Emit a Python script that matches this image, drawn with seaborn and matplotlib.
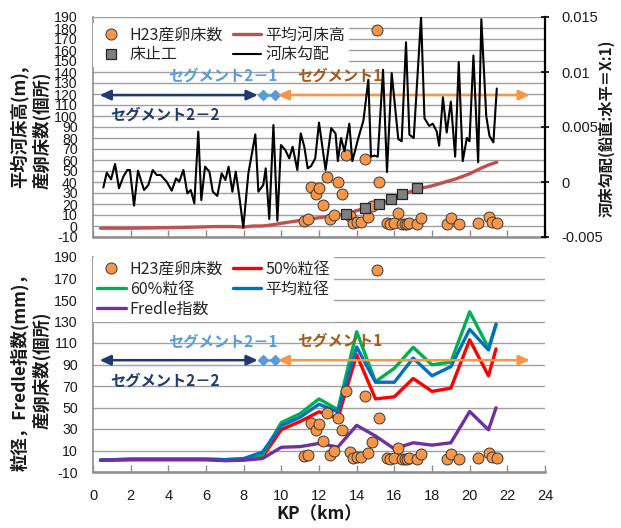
import matplotlib
matplotlib.use("Agg")
import matplotlib.pyplot as plt
from matplotlib.lines import Line2D
from matplotlib.font_manager import FontProperties
import pandas as pd
import seaborn as sns

# ---------------------------------------------------------------- data
# H23 spawning redds: kilometre post and number of redds
redd_kp = [11.22, 11.44, 11.58, 11.84, 12.0, 12.2, 12.44, 12.57, 12.8, 13.0,
           13.22, 13.44, 13.63, 13.8, 14.0, 14.22, 14.44, 14.6, 14.82, 15.06,
           15.21, 15.63, 15.77, 15.99, 16.2, 16.39, 16.57, 16.69, 16.8, 17.19,
           17.42, 18.78, 19.01, 19.42, 20.43, 21.01, 21.17, 21.44]
redd_count = [5, 6, 35.5, 29, 35, 19, 45, 6, 10, 40,
              29, 65, 9, 3, 4, 4, 61, 8, 18, 178,
              40, 3, 2, 3, 12, 2, 2, 2, 3, 2,
              7, 2, 7, 2, 3, 8, 4, 3]

# mean bed elevation (m)
bed_kp = [0.4, 2, 4, 5.5, 6.5, 7.5, 8, 8.5, 9, 9.5, 10, 11, 12, 12.8, 13.44,
          14, 14.44, 15.21, 15.81, 16.43, 17.21, 18, 18.6, 19.3, 20, 20.6, 21, 21.44]
bed_elev = [-2, -2, -1.5, -1, -0.5, -0.5, -1, 0, 0, 1, 2.5, 5, 7.5, 9.5, 11,
            14, 16, 20, 24, 28.5, 33.5, 36.5, 39.5, 43, 47.5, 52.5, 55.5, 58]

# grade-control sills
sill_kp = [13.44, 14.44, 15.21, 15.81, 16.43, 17.21]
sill_elev = [10.9, 16.1, 20.0, 24.3, 28.8, 34.3]

# bed slope (vertical : horizontal = X : 1)
slope_kp = [0.55, 0.73, 0.96, 1.17, 1.38, 1.61, 1.82, 1.96, 2.18, 2.39,
            2.71, 2.94, 3.17, 3.38, 3.59, 3.91, 4.18, 4.41, 4.58, 4.80,
            5.01, 5.19, 5.38, 5.59, 5.75, 5.95, 6.18, 6.36, 6.60, 6.83,
            7.03, 7.20, 7.40, 7.58, 7.77, 7.98, 8.25, 8.62, 8.78, 9.04,
            9.17, 9.36, 9.58, 9.79, 9.98, 10.21, 10.42, 10.60, 10.85, 11.03,
            11.22, 11.40, 11.58, 11.80, 12.00, 12.35, 12.65, 12.88, 13.00, 13.17,
            13.35, 13.61, 13.77, 14.09, 14.36, 14.62, 14.76, 14.95, 15.12, 15.40,
            15.61, 15.86, 16.21, 16.39, 16.62, 16.80, 17.03, 17.42, 17.60, 17.85,
            18.04, 18.25, 18.38, 18.58, 18.78, 19.00, 19.23, 19.42, 19.63, 19.85,
            19.99, 20.20, 20.45, 20.62, 20.88, 21.05, 21.26, 21.44]
slope = [-0.0005, 0.00085, 0.00024, 0.00164, -0.00057, 0.00048, 0.00109, 0.00109, -0.00215, 0.00103,
         -0.00073, -0.00027, 0.00109, 0.00064, 0.00064, 0.00003, -0.00079, 0.00033, 0.00003, 0.00109,
         -0.00103, -0.00073, -0.00194, 0.00458, -0.00164, 0.00139, 0.00094, -0.00088, -0.00127, 0.00079,
         0.00018, 0.00139, -0.00088, 0.00094, -0.00133, -0.00415, 0.00079, 0.00433, -0.00088, -0.00027,
         0.00124, -0.00336, 0.00518, -0.00352, 0.00336, 0.00291, 0.00215, 0.00321, 0.00109, 0.00442,
         0.0032, 0.00124, 0.00145, 0.00215, 0.0054, 0.0011, 0.0049, 0.0044, 0.0019, 0.0040,
         0.0028, 0.0053, 0.0019, 0.0040, 0.0056, 0.0093, 0.0023, 0.0024, 0.0023, 0.0102,
         0.0009, 0.0099, 0.0039, 0.0037, 0.0127, 0.0043, 0.0040, 0.0150, 0.0058, 0.0051,
         0.0053, 0.0046, 0.0033, 0.0077, 0.0045, 0.0073, 0.0023, 0.0109, 0.0019, 0.0040,
         0.0037, 0.0115, 0.0018, 0.0148, 0.0060, 0.0042, 0.0036, 0.0085]

# grain sizes (mm) and Fredle index
grain_kp = [0.4, 2, 4, 6, 7, 8, 9, 10, 11, 12, 13, 14, 15, 16, 17, 18, 19, 20, 21, 21.4]
d50 = [1, 1.5, 1.5, 1.5, 1, 1.5, 4, 29.5, 37, 46, 40, 99, 58, 60, 77, 65, 68, 113, 79.5, 104.5]
d60 = [1, 2, 2, 2, 1.5, 2, 6, 36, 44.3, 58, 48, 120.5, 74, 86.5, 106, 89.7, 92.3, 139, 105.5, 127]
dmean = [1, 2, 2, 2, 1.5, 2.5, 8.5, 33, 41, 53, 46, 106.3, 73.5, 73.5, 96, 79.5, 88, 122.7, 103.5, 127.6]
fredle = [1, 1.5, 1.5, 1.5, 0.5, 1, 2.5, 13, 13.6, 16.6, 13.2, 33.4, 23.5, 11.5, 17.2, 15, 17.2, 46.3, 29.2, 49.7]

# axis ticks
x_ticks = list(range(0, 25, 2))
x_tick_labels = [str(v) for v in x_ticks]
top_y_ticks = list(range(-10, 191, 10))
bottom_y_ticks = list(range(-10, 191, 20))
slope_ticks = [-0.005, 0, 0.005, 0.01, 0.015]
slope_tick_labels = ["-0.005", "0", "0.005", "0.01", "0.015"]

# river segments (km)
seg22_span = (0.35, 8.75)
seg21_span = (9.05, 9.65)
seg1_span = (9.8, 23.2)

# ---------------------------------------------------------------- style
ORANGE = "#F79646"
BED_RED = "#C0504D"
SILL_GRAY = "#7F7F7F"
RED = "#FF0000"
GREEN = "#00B050"
BLUE = "#0070C0"
PURPLE = "#7030A0"
NAVY = "#1F3A6E"
LIGHTBLUE = "#5B9BD5"
BROWN = "#A65A17"
GRID = "#A0A0A0"
SPINE = "#8C8C8C"
TXT = "#1A1A1A"

sns.set_theme(style="white")
CJK = ["Noto Sans CJK JP", "DejaVu Sans"]
NUM = ["Liberation Sans", "DejaVu Sans"]
plt.rcParams["font.family"] = CJK
plt.rcParams["axes.unicode_minus"] = False

fig = plt.figure(figsize=(6.21, 5.28), dpi=100)
W, H = 621, 528
ax_top = fig.add_axes([93 / W, 1 - 237 / H, 452 / W, 220 / H])
ax_bot = fig.add_axes([93 / W, 1 - 472 / H, 452 / W, 215 / H])


def style_axis(ax, yticks, show_xlabels):
    ax.set_xlim(0, 24)
    ax.set_ylim(-10, 190)
    ax.set_xticks(x_ticks)
    ax.set_xticklabels(x_tick_labels if show_xlabels else [],
                       fontfamily=NUM, fontsize=10.5, color=TXT)
    ax.set_yticks(yticks)
    ax.set_yticklabels([str(v) for v in yticks], fontfamily=NUM,
                       fontsize=10.2, color=TXT)
    ax.grid(axis="y", color=GRID, lw=1.0)
    ax.grid(axis="x", visible=False)
    ax.set_axisbelow(True)
    ax.tick_params(axis="x", direction="in", length=5, width=1.0,
                   color=SPINE, bottom=True, pad=12)
    ax.tick_params(axis="y", length=0, pad=11)
    for s in ("top", "right"):
        ax.spines[s].set_visible(False)
    ax.spines["left"].set_color(SPINE)
    ax.spines["left"].set_linewidth(1.2)
    ax.spines["bottom"].set_color(SPINE)
    ax.spines["bottom"].set_linewidth(1.8)
    ax.set_xlabel("")
    ax.set_ylabel("")


def draw_segments(ax, y_arrow, y_21, y_1, y_22):
    head = "<|-|>,head_length=0.55,head_width=0.25"
    ax.annotate("", xy=(seg22_span[0], y_arrow), xytext=(seg22_span[1], y_arrow),
                arrowprops=dict(arrowstyle=head, color=NAVY, lw=1.8,
                                shrinkA=0, shrinkB=0), zorder=6)
    ax.plot(list(seg21_span), [y_arrow, y_arrow], color=LIGHTBLUE, lw=1.8,
            marker="D", ms=5.5, mec=LIGHTBLUE, zorder=6)
    ax.annotate("", xy=(seg1_span[0], y_arrow), xytext=(seg1_span[1], y_arrow),
                arrowprops=dict(arrowstyle=head, color=ORANGE, lw=1.8,
                                shrinkA=0, shrinkB=0), zorder=6)
    kw = dict(ha="center", va="center", fontsize=11, fontweight="bold", zorder=7)
    ax.text(6.9, y_21, "セグメント2－1", color=LIGHTBLUE, **kw)
    ax.text(13.1, y_1, "セグメント1", color=BROWN, **kw)
    ax.text(3.85, y_22, "セグメント2－2", color=NAVY, **kw)


# ---------------------------------------------------------------- top panel
redd_df = pd.DataFrame({"kp": redd_kp, "n": redd_count})
bed_df = pd.DataFrame({"kp": bed_kp, "z": bed_elev})
sill_df = pd.DataFrame({"kp": sill_kp, "z": sill_elev})
slope_df = pd.DataFrame({"kp": slope_kp, "s": slope})

style_axis(ax_top, top_y_ticks, show_xlabels=False)
sns.lineplot(data=bed_df, x="kp", y="z", ax=ax_top, color=BED_RED, lw=2.4,
             sort=False, estimator=None, zorder=3)
sns.scatterplot(data=redd_df, x="kp", y="n", ax=ax_top, marker="o", s=62,
                color=ORANGE, edgecolor="#3A3A3A", linewidth=0.7, zorder=4)
sns.scatterplot(data=sill_df, x="kp", y="z", ax=ax_top, marker="s", s=62,
                color=SILL_GRAY, edgecolor="#262626", linewidth=0.9, zorder=5)
draw_segments(ax_top, 119, 137, 137, 101)
ax_top.set_xlabel("")
ax_top.set_ylabel("")

ax_slope = ax_top.twinx()
sns.lineplot(data=slope_df, x="kp", y="s", ax=ax_slope, color="black", lw=1.5,
             sort=False, estimator=None)
ax_slope.set_ylim(-0.005, 0.015)
ax_slope.set_xlim(0, 24)
ax_slope.set_yticks(slope_ticks)
ax_slope.set_yticklabels(slope_tick_labels, fontfamily=NUM, fontsize=10.5, color=TXT)
ax_slope.grid(False)
ax_slope.set_ylabel("")
ax_slope.set_xlabel("")
for s in ("top", "left", "bottom"):
    ax_slope.spines[s].set_visible(False)
ax_slope.spines["right"].set_color("black")
ax_slope.spines["right"].set_linewidth(1.6)
ax_slope.tick_params(axis="y", right=True, direction="inout", length=6,
                     width=1.2, color="black", pad=9)

legend_font = FontProperties(family=CJK, size=11.5)
legend_kw = dict(loc="upper left", ncol=2, prop=legend_font, frameon=True,
                 fancybox=False, framealpha=1, facecolor="white", edgecolor="none",
                 handlelength=1.8, handletextpad=0.25, columnspacing=0.6,
                 labelspacing=0.18, borderpad=0.25, borderaxespad=0.0)
top_handles = [
    Line2D([], [], ls="none", marker="o", ms=8, mfc=ORANGE, mec="#3A3A3A", mew=0.7),
    Line2D([], [], ls="none", marker="s", ms=7.5, mfc=SILL_GRAY, mec="#262626", mew=0.9),
    Line2D([], [], color=BED_RED, lw=2.4),
    Line2D([], [], color="black", lw=1.5),
]
top_labels = ["H23産卵床数", "床止工", "平均河床高", "河床勾配"]
ax_slope.legend(top_handles, top_labels, bbox_to_anchor=(0.0, 0.975), **legend_kw)

# ---------------------------------------------------------------- bottom panel
grain_df = pd.DataFrame({"kp": grain_kp, "d50": d50, "d60": d60,
                         "dmean": dmean, "fredle": fredle})
style_axis(ax_bot, bottom_y_ticks, show_xlabels=True)
for col, colr in (("d50", RED), ("d60", GREEN), ("dmean", BLUE), ("fredle", PURPLE)):
    sns.lineplot(data=grain_df, x="kp", y=col, ax=ax_bot, color=colr, lw=2.4,
                 sort=False, estimator=None, zorder=3)
sns.scatterplot(data=redd_df, x="kp", y="n", ax=ax_bot, marker="o", s=62,
                color=ORANGE, edgecolor="#3A3A3A", linewidth=0.7, zorder=5)
draw_segments(ax_bot, 94, 111, 112.5, 75)
ax_bot.set_ylabel("")
ax_bot.set_xlabel("KP（km）", fontsize=12.5, fontweight="bold", color=TXT, labelpad=2)

bot_handles = [
    Line2D([], [], ls="none", marker="o", ms=8, mfc=ORANGE, mec="#3A3A3A", mew=0.7),
    Line2D([], [], color=GREEN, lw=2.4),
    Line2D([], [], color=PURPLE, lw=2.4),
    Line2D([], [], color=RED, lw=2.4),
    Line2D([], [], color=BLUE, lw=2.4),
]
bot_labels = ["H23産卵床数", "60%粒径", "Fredle指数", "50%粒径", "平均粒径"]
leg = ax_bot.legend(bot_handles, bot_labels, bbox_to_anchor=(0.0, 1.0), **legend_kw)
leg.set_zorder(4)

# ---------------------------------------------------------------- axis titles
lab = dict(rotation=90, ha="center", va="center", fontsize=12.5,
           fontweight="bold", color=TXT)
fig.text(20 / W, 1 - 127 / H, "平均河床高(m),", **lab)
fig.text(42 / W, 1 - 130 / H, "産卵床数(個所)", **lab)
fig.text(20 / W, 1 - 368 / H, "粒径，Fredle指数(mm)，", **lab)
fig.text(42 / W, 1 - 370 / H, "産卵床数(個所)", **lab)
fig.text(607 / W, 1 - 128 / H, "河床勾配(鉛直:水平＝X:1)", rotation=90,
         ha="center", va="center", fontsize=11, fontweight="bold", color=TXT)

fig.savefig("out.png", dpi=100)
